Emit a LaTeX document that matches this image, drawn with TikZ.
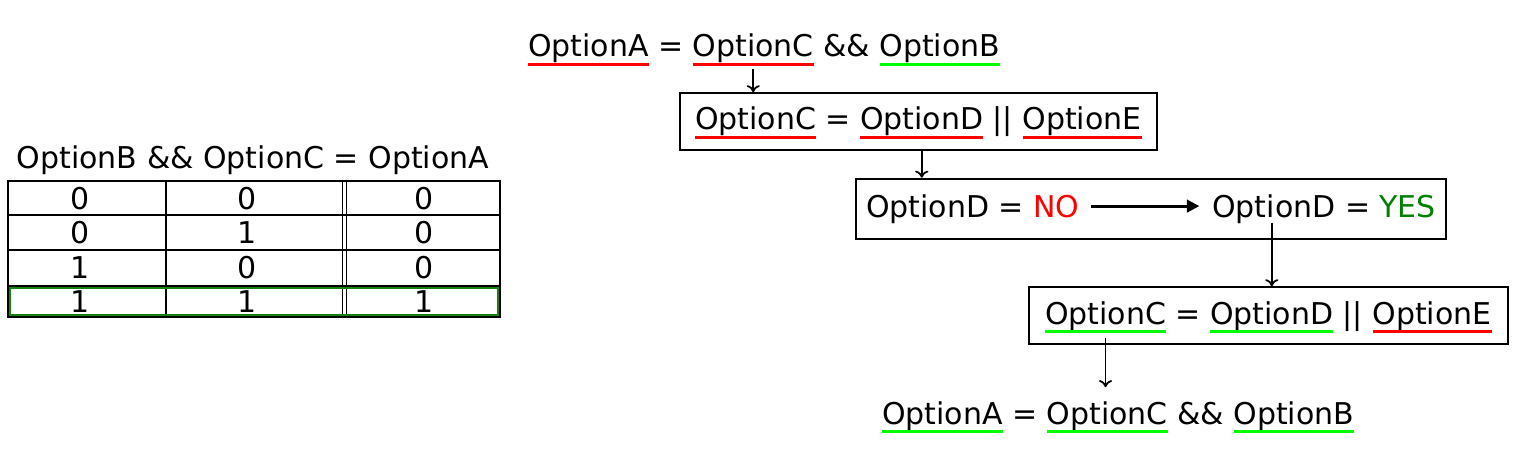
\documentclass[tikz,border=0pt]{standalone}
\usepackage{fontspec}
\setmainfont{DejaVu Sans}
\usetikzlibrary{positioning,fit,arrows.meta}

\definecolor{markred}{RGB}{255,0,0}
\definecolor{markgreen}{RGB}{0,255,0}
\definecolor{yesgreen}{RGB}{0,128,0}
\definecolor{rowgreen}{RGB}{20,130,20}

\tikzset{
  word/.style={inner sep=0pt, outer sep=0pt, anchor=base west},
  cell/.style={inner sep=0pt, outer sep=0pt},
  redmark/.style={draw=markred, line width=1.7pt},
  greenmark/.style={draw=markgreen, line width=1.7pt},
  box/.style={draw, line width=1.1pt, inner xsep=0.3cm, inner ysep=0.28cm},
  flow/.style={-{To[length=4pt,width=7.5pt]}, line width=1pt},
}

\begin{document}
\begin{tikzpicture}[x=0.02cm, y=-0.02cm, node distance=0.19cm,
    font=\fontsize{17.07}{20}\selectfont]
    \useasboundingbox (0,0) rectangle (1513,449);

    % truth table
    \node[cell] (title) at (253,160) {OptionB \&\& OptionC = OptionA};
    \draw[line width=1.5pt] (8,181) rectangle (500,317);
    \foreach \y in {215,250,286}
        \draw[line width=1pt] (8,\y) -- (500,\y);
    \draw[line width=1pt] (166,181) -- (166,317);
    \draw[line width=0.75pt] (342.5,181) -- (342.5,317);
    \draw[line width=0.75pt] (346.5,181) -- (346.5,317);
    \draw[draw=rowgreen, line width=1.1pt] (10,288) rectangle (498,315);
    \foreach \a/\b/\c/\y [count=\r] in {0/0/0/199, 0/1/0/233, 1/0/0/268, 1/1/1/302} {
        \node[cell] (r\r-1) at (80,\y) {\a};
        \node[cell] (r\r-2) at (247,\y) {\b};
        \node[cell] (r\r-3) at (424,\y) {\c};
    }

    % first line
    \node[word] (t1) at (528,57) {OptionA};
    \node[word, base right=of t1] (t2) {=};
    \node[word, base right=of t2] (t3) {OptionC};
    \node[word, base right=of t3] (t4) {\&\&};
    \node[word, base right=of t4] (t5) {OptionB};

    % OptionC box
    \node[word] (b1) at (695,130) {OptionC};
    \node[word, base right=of b1] (b2) {=};
    \node[word, base right=of b2] (b3) {OptionD};
    \node[word, base right=of b3] (b4) {||};
    \node[word, base right=of b4] (b5) {OptionE};
    \node[box, fit=(b1)(b5)] (box1) {};

    % OptionD box
    \node[word] (d1) at (866,217) {OptionD};
    \node[word, base right=of d1] (d2) {=};
    \node[word, base right=of d2, text=markred] (d3) {NO};
    \node[word, base right=2.66cm of d3] (d4) {OptionD};
    \node[word, base right=of d4] (d5) {=};
    \node[word, base right=of d5, text=yesgreen] (d6) {YES};
    \node[box, inner xsep=0.2cm, inner ysep=0.31cm, fit=(d1)(d6)] (box2) {};
    \draw[-{Triangle[length=0.25cm,width=0.25cm]}, line width=1.7pt,
        shorten <=0.24cm, shorten >=0.26cm] (d3.east) -- (d3.east -| d4.west);

    % OptionC box again
    \node[word] (e1) at (1045,324) {OptionC};
    \node[word, base right=of e1] (e2) {=};
    \node[word, base right=of e2] (e3) {OptionD};
    \node[word, base right=of e3] (e4) {||};
    \node[word, base right=of e4] (e5) {OptionE};
    \node[box, inner xsep=0.32cm, fit=(e1)(e5)] (box3) {};

    % last line
    \node[word] (f1) at (882,424) {OptionA};
    \node[word, base right=of f1] (f2) {=};
    \node[word, base right=of f2] (f3) {OptionC};
    \node[word, base right=of f3] (f4) {\&\&};
    \node[word, base right=of f4] (f5) {OptionB};

    % underlines
    \foreach \w in {t1,t3,b1,b3,b5,e5}
        \draw[redmark] ([yshift=-0.9pt]\w.south west) -- ([yshift=-0.9pt]\w.south east);
    \foreach \w in {t5,e1,e3,f1,f3,f5}
        \draw[greenmark] ([yshift=-0.9pt]\w.south west) -- ([yshift=-0.9pt]\w.south east);

    % arrows
    \draw[flow] ([yshift=-3.5pt]t3.south) -- (t3.south |- box1.north);
    \draw[flow] (b3.south |- box1.south) -- (b3.south |- box2.north);
    \draw[flow] (e3.north |- d4.south) -- (e3.north |- box3.north);
    \draw[flow] ([yshift=-4.5pt]e1.south) -- ([yshift=8pt]e1.south |- f3.north);
\end{tikzpicture}
\end{document}
